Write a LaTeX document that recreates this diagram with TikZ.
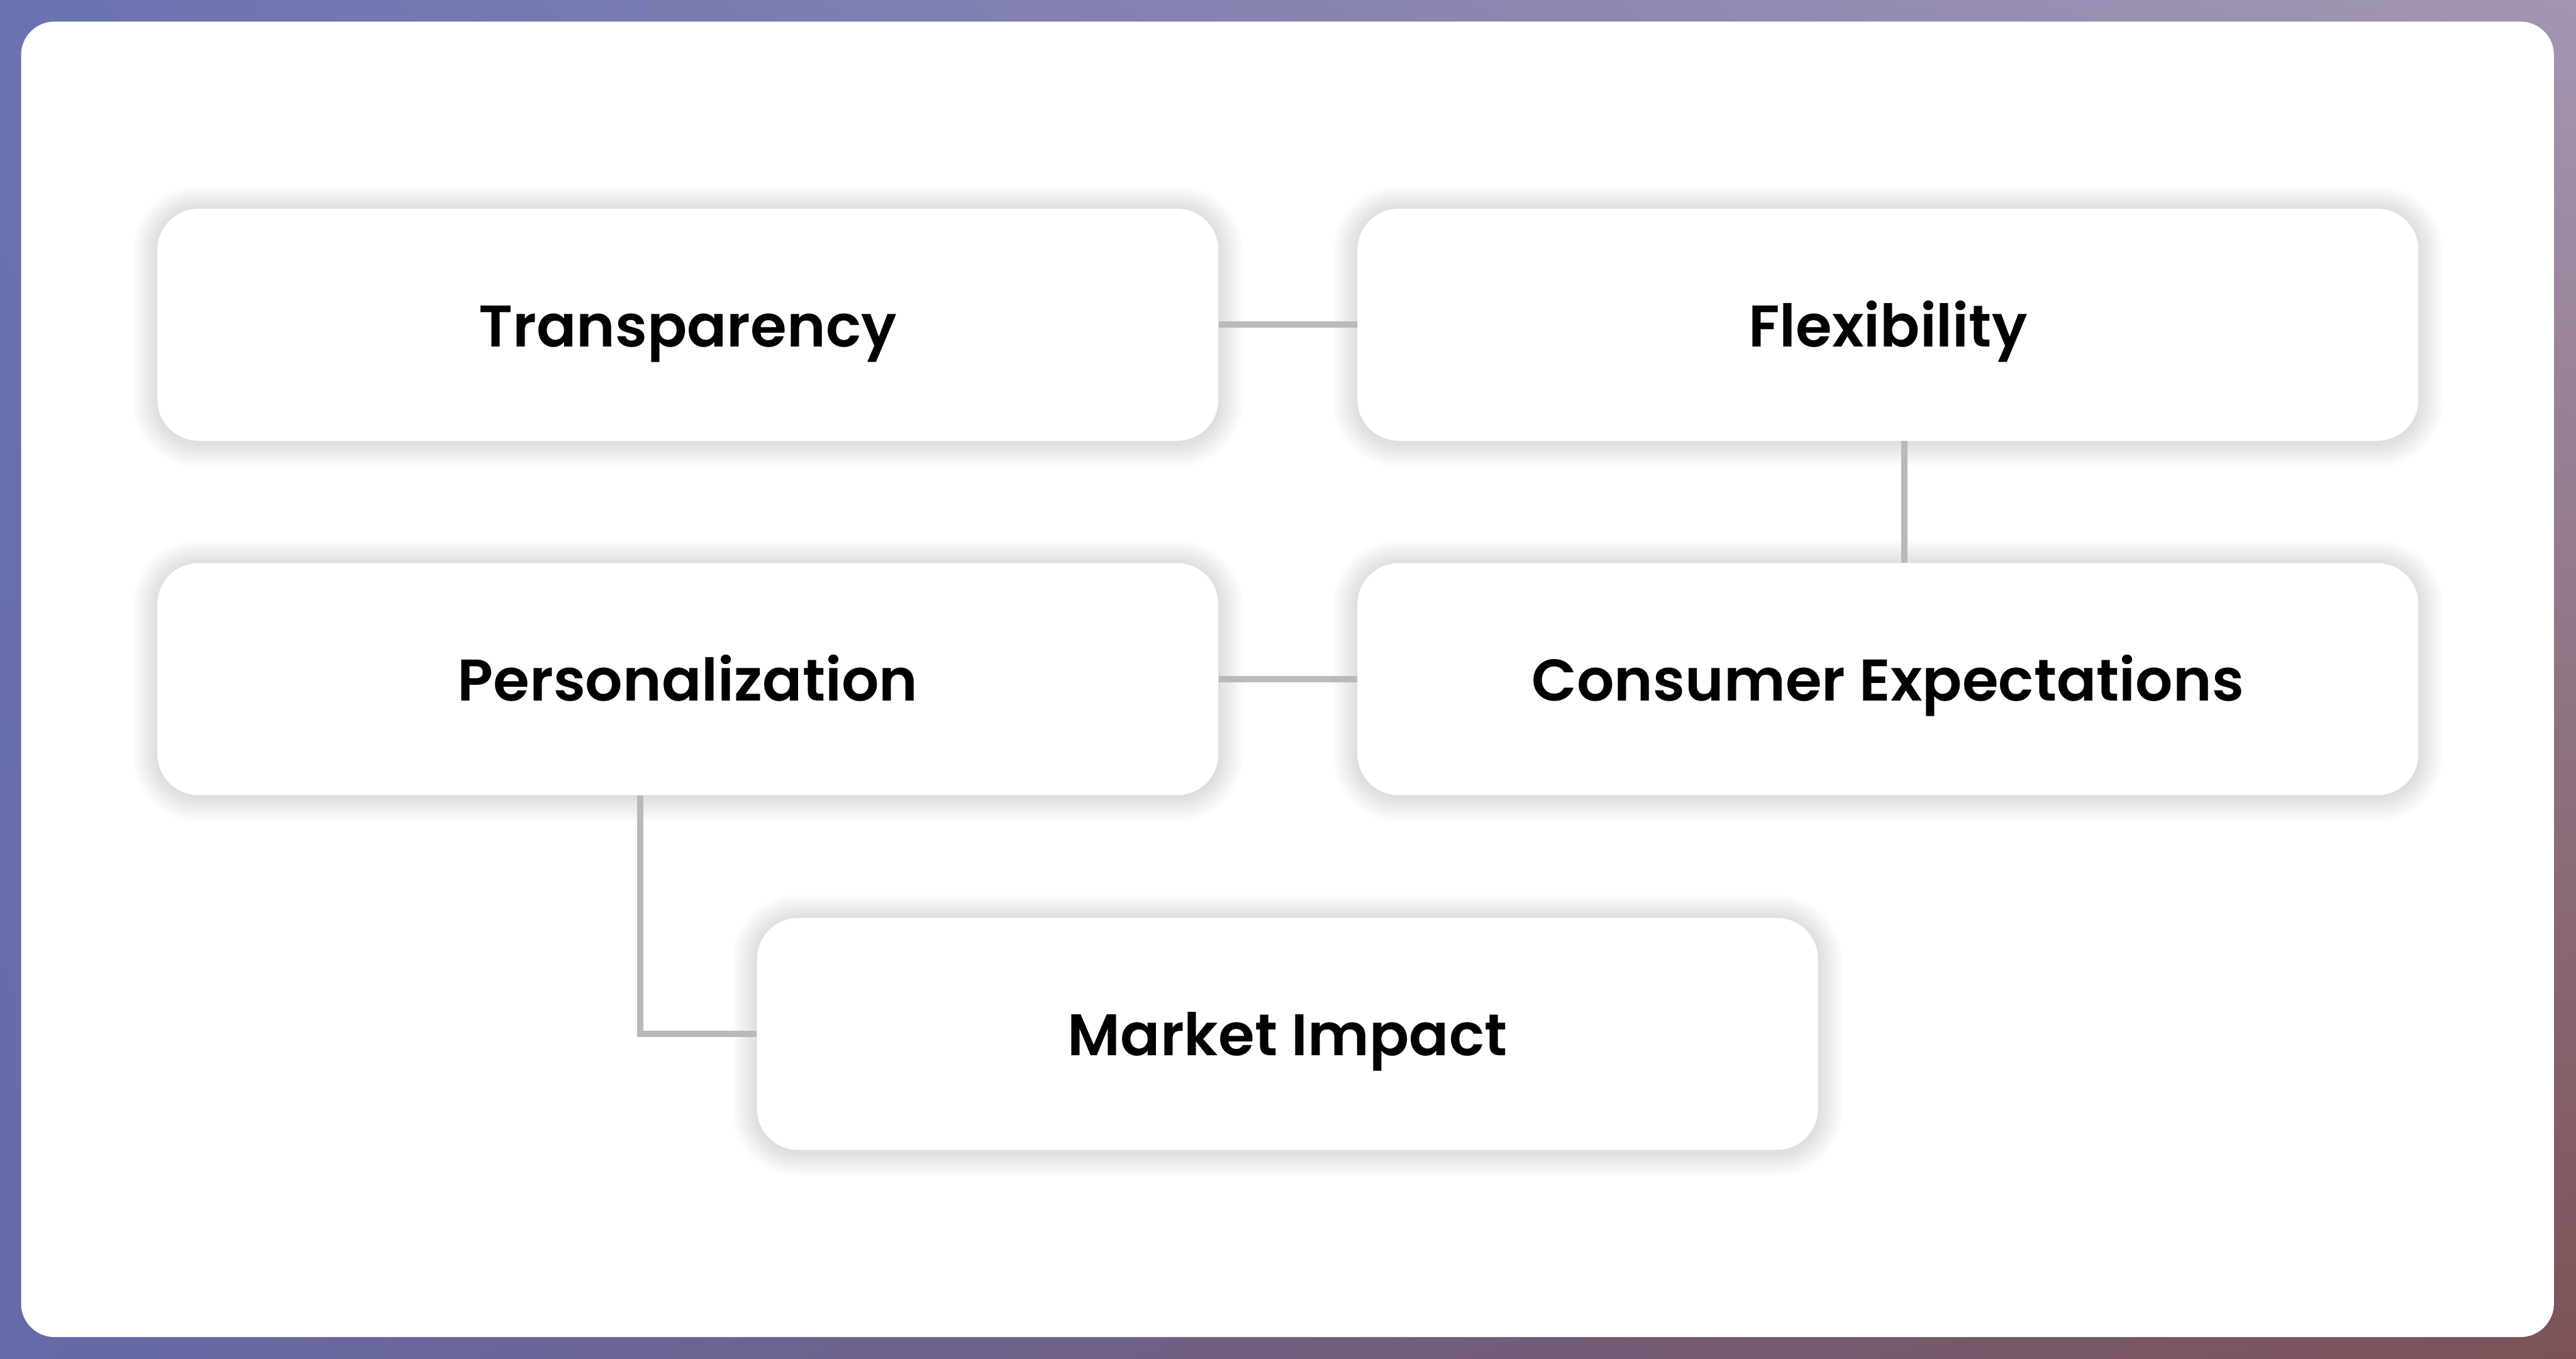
\documentclass[tikz,border=0pt]{standalone}
\usepackage{fontspec}
\setmainfont{Poppins}[BoldFont={Poppins SemiBold}]
\usetikzlibrary{shadings,backgrounds}
\definecolor{bgUL}{HTML}{6A72B1}
\definecolor{bgUR}{HTML}{A496B2}
\definecolor{bgLL}{HTML}{656AA9}
\definecolor{bgLR}{HTML}{7C5256}
\definecolor{linegray}{HTML}{B9B9B9}
\tikzset{
  card/.style={rectangle, rounded corners=0.8cm, fill=white,
    minimum width=20.63cm, minimum height=4.51cm, inner sep=0pt,
    text height=0.85cm, text depth=0cm,
    font=\fontsize{32.5}{39}\selectfont\bfseries, text=black},
  link/.style={draw=linegray, line width=0.12cm}
}
\newcommand{\cardshadow}[1]{%
  \foreach \i in {1,...,16}{%
    \pgfmathsetmacro{\dd}{\i*0.03}%
    \pgfmathsetmacro{\rr}{0.8+\i*0.03}%
    \fill[black, opacity=0.0085, rounded corners=\rr cm]
      ([shift={(-\dd,-\dd-0.03)}]#1.south west) rectangle ([shift={(\dd,\dd-0.03)}]#1.north east);
  }%
}
\begin{document}
\begin{tikzpicture}
\useasboundingbox (0,0) rectangle (50.09,-26.42);

\node[card] (T) at (13.375,-6.315) {Transparency};
\node[card] (F) at (36.71,-6.315) {Flexibility};
\node[card] (P) at (13.375,-13.205) {Personalization};
\node[card] (C) at (36.71,-13.205) {Consumer Expectations};
\node[card] (M) at (25.035,-20.105) {Market Impact};

\begin{pgfonlayer}{background}
\shade[upper left=bgUL, upper right=bgUR, lower left=bgLL, lower right=bgLR] (0,0) rectangle (50.09,-26.42);
\fill[white, rounded corners=0.65cm] (0.41,-0.42) rectangle (49.66,-26.00);
\cardshadow{T}
\cardshadow{F}
\cardshadow{P}
\cardshadow{C}
\cardshadow{M}
\end{pgfonlayer}

\draw[link] (T.east) -- (F.west);
\draw[link] ([xshift=0.32cm]F.south) -- ([xshift=0.32cm]C.north);
\draw[link] (P.east) -- (C.west);
\draw[link] ([xshift=-0.925cm]P.south) |- (M.west);
\end{tikzpicture}
\end{document}
